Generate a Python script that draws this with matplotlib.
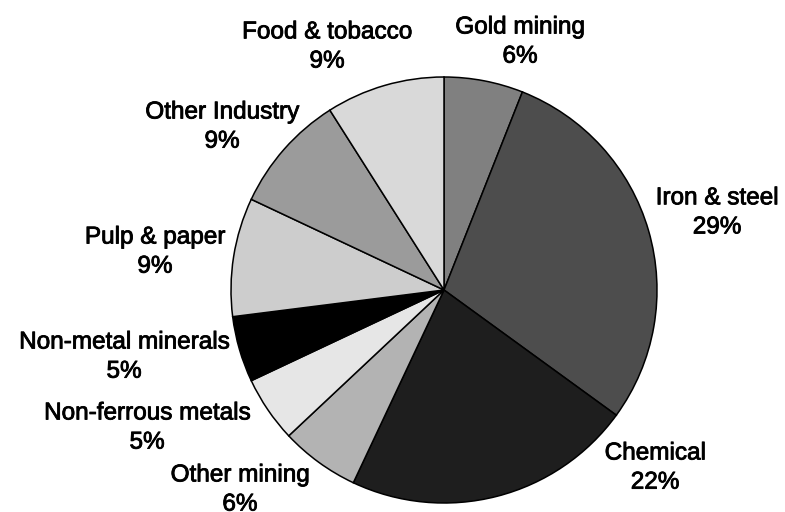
import matplotlib
matplotlib.use("Agg")
import matplotlib.pyplot as plt
import matplotlib.patheffects as pe

plt.rcParams['font.family'] = ['Liberation Sans', 'DejaVu Sans']

# Industry share of energy use (clockwise from 12 o'clock)
sectors = ["Gold mining", "Iron & steel", "Chemical", "Other mining",
           "Non-ferrous metals", "Non-metal minerals", "Pulp & paper",
           "Other Industry", "Food & tobacco"]
shares = [6, 29, 22, 6, 5, 5, 9, 9, 9]
colors = ["#808080", "#4d4d4d", "#1e1e1e", "#b3b3b3", "#e6e6e6",
          "#000000", "#cdcdcd", "#9b9b9b", "#d9d9d9"]

# label centres in axes data units (pie radius = 1)
label_pos = [(0.357, 1.164), (1.282, 0.362), (0.991, -0.836),
             (-0.958, -0.939), (-1.394, -0.648), (-1.502, -0.315),
             (-1.357, 0.178), (-1.042, 0.765), (-0.549, 1.141)]

W, H = 785, 512
fig = plt.figure(figsize=(W / 100, H / 100), dpi=100)
cx, cy, r = 444, 290, 213
ax = fig.add_axes([(cx - r) / W, (H - cy - r) / H, 2 * r / W, 2 * r / H])

ax.pie(shares, colors=colors, startangle=90, counterclock=False, radius=1,
       wedgeprops=dict(edgecolor="black", linewidth=1.1))
ax.set_xlim(-1, 1)
ax.set_ylim(-1, 1)
ax.set_aspect("equal")
ax.axis("off")

heavy = [pe.withStroke(linewidth=0.6, foreground="black")]
for name, val, (x, y) in zip(sectors, shares, label_pos):
    ax.text(x, y, f"{name}\n{val}%", ha="center", va="center",
            fontsize=17.5, linespacing=1.42, clip_on=False,
            path_effects=heavy)

fig.savefig("out.png", dpi=100)
